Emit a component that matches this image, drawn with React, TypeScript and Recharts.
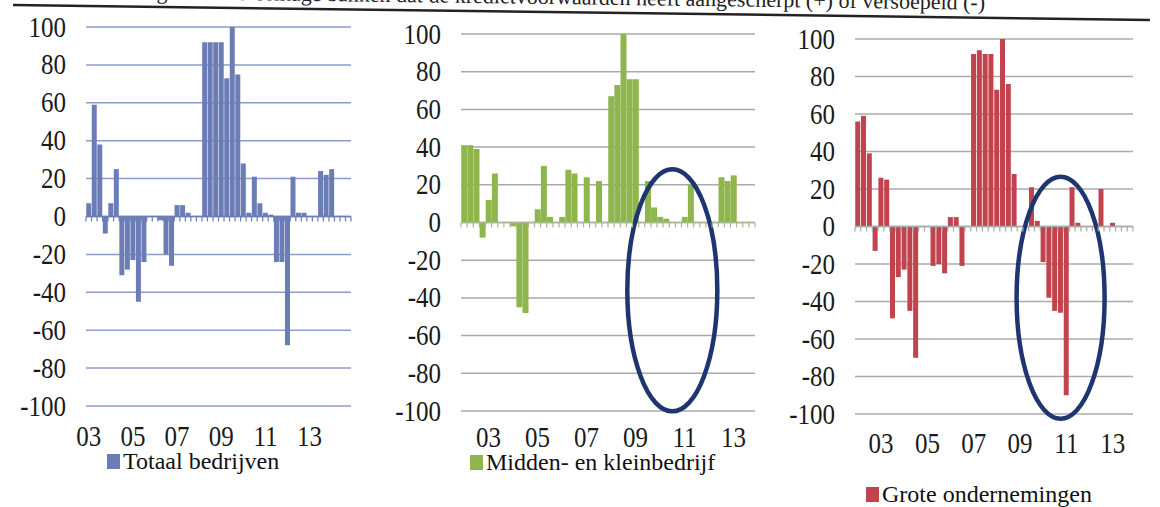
import React from 'react';
import { BarChart, Bar, XAxis, YAxis, CartesianGrid, ReferenceLine, ReferenceDot, Legend } from 'recharts';

const FONT = "'Liberation Serif', 'Times New Roman', serif";

const quarters = [
  '2003Q1', '2003Q2', '2003Q3', '2003Q4', '2004Q1', '2004Q2', '2004Q3', '2004Q4',
  '2005Q1', '2005Q2', '2005Q3', '2005Q4', '2006Q1', '2006Q2', '2006Q3', '2006Q4',
  '2007Q1', '2007Q2', '2007Q3', '2007Q4', '2008Q1', '2008Q2', '2008Q3', '2008Q4',
  '2009Q1', '2009Q2', '2009Q3', '2009Q4', '2010Q1', '2010Q2', '2010Q3', '2010Q4',
  '2011Q1', '2011Q2', '2011Q3', '2011Q4', '2012Q1', '2012Q2', '2012Q3', '2012Q4',
  '2013Q1', '2013Q2', '2013Q3', '2013Q4', '2014Q1', '2014Q2', '2014Q3', '2014Q4',
];

const totaal = [
  7, 59, 38, -9, 7, 25, -31, -28, -23, -45, -24, 0, 0, -2, -20, -26,
  6, 6, 2, 0, 0, 92, 92, 92, 92, 73, 100, 75, 28, 2, 21, 7,
  2, 1, -24, -24, -68, 21, 2, 2, 0, 0, 24, 22, 25, null, null, null,
];

const mkb = [
  41, 41, 39, -8, 12, 26, 0, 0, -2, -45, -48, 0, 7, 30, 3, 0,
  3, 28, 26, 0, 24, 0, 22, 0, 67, 73, 100, 76, 76, 0, 22, 8,
  3, 2, 0, 0, 3, 20, 0, 0, 0, 0, 24, 22, 25, null, null, null,
];

const grote = [
  56, 59, 39, -13, 26, 25, -49, -27, -23, -45, -70, 0, 0, -21, -20, -25,
  5, 5, -21, 0, 92, 94, 92, 92, 73, 100, 76, 28, 0, 0, 21, 3,
  -19, -38, -45, -46, -90, 21, 2, 0, 0, 0, 20, 0, 2, null, null, null,
];

const yTicks = [-100, -80, -60, -40, -20, 0, 20, 40, 60, 80, 100];
const yearLabels = ['03', '05', '07', '09', '11', '13'];
const labelSlotsA = ['2003Q1', '2005Q1', '2007Q1', '2009Q1', '2011Q1', '2013Q1'];
const labelSlotsB = ['2004Q1', '2006Q1', '2008Q1', '2010Q1', '2012Q1', '2014Q1'];

const data = quarters.map((q, i) => ({ q, totaal: totaal[i], mkb: mkb[i], grote: grote[i] }));

function SlotTick(props: any) {
  const { x, y, payload, index, half, zeroDrop, tickColor, labelMap, labelDy, count } = props;
  const zy = y - zeroDrop;
  const label = labelMap[payload.value];
  const by = y + labelDy;
  return (
    <g>
      <line x1={x - half} x2={x - half} y1={zy} y2={zy + 5} stroke={tickColor} strokeWidth={1.2} />
      {index === count - 1 ? (
        <line x1={x + half} x2={x + half} y1={zy} y2={zy + 5} stroke={tickColor} strokeWidth={1.2} />
      ) : null}
      {label ? (
        <text
          x={x}
          y={by}
          textAnchor="middle"
          fontFamily={FONT}
          fontSize={25}
          fill="#1a1a1a"
          transform={`matrix(1,0,0,1.2,0,${-0.2 * by})`}
        >
          {label}
        </text>
      ) : null}
    </g>
  );
}

function YTick(props: any) {
  const { x, y, payload } = props;
  return (
    <text
      x={x}
      y={y}
      textAnchor="end"
      dominantBaseline="central"
      fontFamily={FONT}
      fontSize={25}
      fill="#1a1a1a"
      transform={`matrix(1,0,0,1.15,0,${-0.15 * y})`}
    >
      {payload.value}
    </text>
  );
}

type PanelCfg = {
  dataKey: string;
  name: string;
  color: string;
  grid: string;
  axis: string;
  left: number;
  width: number;
  plotL: number;
  plotR: number;
  plotT: number;
  plotB: number;
  labelSlots: string[];
  labelDy: number;
  legendX: number;
  legendY: number;
  ellipse?: { x: string; y: number; rx: number; ry: number };
};

const H = 507;
const XH = 40;

function Panel({ cfg }: { cfg: PanelCfg }) {
  const plotW = cfg.plotR - cfg.plotL;
  const plotH = cfg.plotB - cfg.plotT;
  const half = plotW / quarters.length / 2;
  const labelMap: Record<string, string> = {};
  cfg.labelSlots.forEach((s, i) => (labelMap[s] = yearLabels[i]));
  const ell = cfg.ellipse;
  return (
    <div style={{ position: 'absolute', left: cfg.left, top: 0 }}>
      <BarChart
        width={cfg.width}
        height={H}
        data={data}
        barCategoryGap="4%"
        margin={{ top: cfg.plotT, left: 0, right: cfg.left + cfg.width - cfg.plotR, bottom: H - cfg.plotB - XH }}
      >
        <CartesianGrid vertical={false} stroke={cfg.grid} strokeWidth={1.5} />
        <XAxis
          dataKey="q"
          interval={0}
          height={XH}
          axisLine={false}
          tickLine={false}
          tickSize={0}
          tickMargin={0}
          tick={
            <SlotTick
              half={half}
              zeroDrop={plotH / 2}
              tickColor={cfg.axis}
              labelMap={labelMap}
              labelDy={cfg.labelDy}
              count={quarters.length}
            />
          }
        />
        <YAxis
          domain={[-100, 100]}
          ticks={yTicks}
          interval={0}
          width={cfg.plotL - cfg.left}
          axisLine={false}
          tickLine={false}
          tickSize={0}
          tickMargin={20}
          tick={<YTick />}
        />
        <Bar dataKey={cfg.dataKey} fill={cfg.color} isAnimationActive={false} />
        <ReferenceLine y={0} stroke={cfg.axis} strokeWidth={1.5} />
        {ell ? (
          <ReferenceDot
            x={ell.x}
            y={ell.y}
            r={2}
            ifOverflow="visible"
            shape={(p: any) => (
              <ellipse cx={p.cx} cy={p.cy} rx={ell.rx} ry={ell.ry} fill="none" stroke="#1e3570" strokeWidth={4.5} />
            )}
          />
        ) : null}
        <Legend
          verticalAlign="middle"
          align="center"
          layout="horizontal"
          wrapperStyle={{ left: cfg.legendX - cfg.left, top: cfg.legendY, width: 'auto', height: 'auto' }}
          content={() => (
            <div
              style={{
                display: 'flex',
                alignItems: 'center',
                fontFamily: FONT,
                fontSize: 24,
                lineHeight: 1,
                color: '#111',
                whiteSpace: 'nowrap',
              }}
            >
              <span style={{ display: 'inline-block', width: 13, height: 15, background: cfg.color, marginRight: 3 }} />
              {cfg.name}
            </div>
          )}
        />
      </BarChart>
    </div>
  );
}

const panels: PanelCfg[] = [
  {
    dataKey: 'totaal', name: 'Totaal bedrijven', color: '#6b7db5', grid: '#8e9cc8', axis: '#6b7db5',
    left: 0, width: 365, plotL: 86, plotR: 351, plotT: 27, plotB: 406,
    labelSlots: labelSlotsA, labelDy: 40, legendX: 107, legendY: 449,
  },
  {
    dataKey: 'mkb', name: 'Midden- en kleinbedrijf', color: '#8fb64c', grid: '#a9a9a9', axis: '#a8b892',
    left: 372, width: 400, plotL: 461, plotR: 755, plotT: 34, plotB: 411,
    labelSlots: labelSlotsB, labelDy: 36, legendX: 470, legendY: 450,
    ellipse: { x: '2011Q3', y: -36, rx: 45, ry: 121 },
  },
  {
    dataKey: 'grote', name: 'Grote ondernemingen', color: '#c1434d', grid: '#ababab', axis: '#aaaaaa',
    left: 775, width: 385, plotL: 855, plotR: 1133, plotT: 39, plotB: 414,
    labelSlots: labelSlotsB, labelDy: 39, legendX: 866, legendY: 482,
    ellipse: { x: '2011Q4', y: -38, rx: 44, ry: 121 },
  },
];

export default function App() {
  return (
    <div style={{ position: 'absolute', left: 0, top: 0, width: 1160, height: 507, background: '#fff', overflow: 'hidden' }}>
      <svg width={1160} height={30} style={{ position: 'absolute', left: 0, top: 0 }}>
        <g transform="rotate(0.75 13 5)">
          <text x={985} y={-3} textAnchor="end" fontFamily={FONT} fontSize={22} fill="#222">
            Figuur 3: Percentage banken dat de kredietvoorwaarden heeft aangescherpt (+) of versoepeld (-)
          </text>
          <line x1={13} y1={5} x2={1150} y2={5} stroke="#222" strokeWidth={2.5} />
        </g>
      </svg>
      {panels.map((p) => (
        <Panel key={p.dataKey} cfg={p} />
      ))}
    </div>
  );
}
